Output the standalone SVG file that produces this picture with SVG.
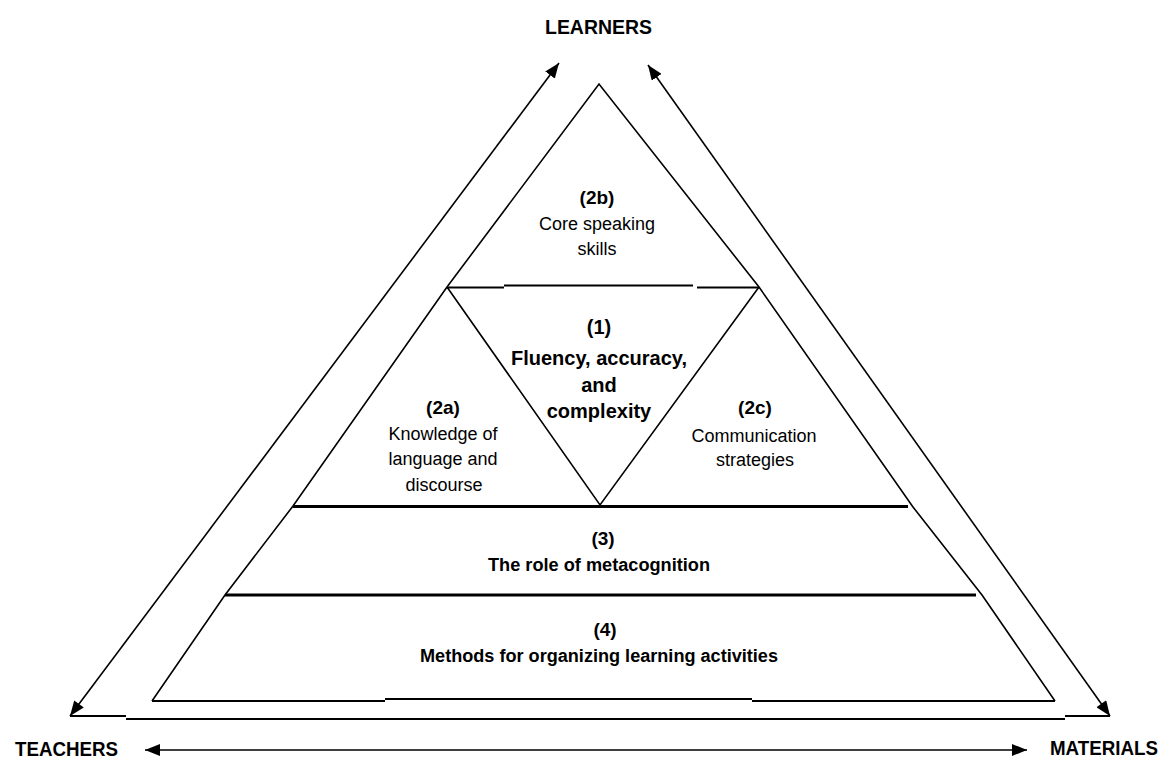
<svg xmlns="http://www.w3.org/2000/svg" width="1167" height="758" viewBox="0 0 1167 758">
  <style>
    .edge { fill: none; stroke: #000; stroke-width: 1.6; stroke-linejoin: miter; }
    .tier { fill: none; stroke: #000; stroke-width: 3; }
    .thin { fill: none; stroke: #000; stroke-width: 1.8; }
    .arrow { fill: none; stroke: #000; stroke-width: 1.6; }
    .lab { font-family: "Liberation Sans", Arial, sans-serif; font-size: 18px; fill: #000; text-anchor: middle; }
    .num { font-family: "Liberation Sans", Arial, sans-serif; font-size: 19px; font-weight: bold; fill: #000; text-anchor: middle; }
    .big { font-family: "Liberation Sans", Arial, sans-serif; font-size: 20px; font-weight: bold; fill: #000; text-anchor: middle; }
    .bold18 { font-family: "Liberation Sans", Arial, sans-serif; font-size: 18px; font-weight: bold; fill: #000; text-anchor: middle; }
    .corner { font-family: "Liberation Sans", Arial, sans-serif; font-size: 20px; font-weight: bold; fill: #000; }
  </style>
  <defs>
    <marker id="head" markerUnits="userSpaceOnUse" markerWidth="16" markerHeight="12" refX="15" refY="6" orient="auto">
      <path d="M0,0 L15,6 L0,12 Z" fill="#000"/>
    </marker>
    <marker id="headStart" markerUnits="userSpaceOnUse" markerWidth="16" markerHeight="12" refX="0" refY="6" orient="auto">
      <path d="M15,0 L0,6 L15,12 Z" fill="#000"/>
    </marker>
  </defs>

  <rect width="1167" height="758" fill="#fff"/>

  <!-- corner labels -->
  <g id="learners">
    <text class="corner" x="545" y="34" textLength="107" lengthAdjust="spacingAndGlyphs">LEARNERS</text>
  </g>
  <g id="teachers">
    <text class="corner" x="15" y="756" textLength="103" lengthAdjust="spacingAndGlyphs">TEACHERS</text>
  </g>
  <g id="materials">
    <text class="corner" x="1050" y="755" textLength="108" lengthAdjust="spacingAndGlyphs">MATERIALS</text>
  </g>

  <!-- outer pyramid and tier dividers -->
  <g id="pyramid">
    <polyline class="edge" points="152,701 225,595 293,506 447,287 599,84 759,287 913,507 982,595 1055,701"/>
    <polyline class="edge" points="447,287 600,505 759,287"/>
    <!-- top divider (2b) -->
    <line class="thin" x1="447" y1="287.5" x2="504" y2="287.5"/>
    <line class="thin" x1="504" y1="285.5" x2="693" y2="285.5" stroke-width="2.4"/>
    <line class="thin" x1="697" y1="287.5" x2="759" y2="287.5"/>
    <!-- tier 3 and tier 4 dividers -->
    <line class="tier" x1="293" y1="506.5" x2="908" y2="506.5"/>
    <line class="tier" x1="225" y1="595" x2="976" y2="595"/>
    <!-- base -->
    <line class="thin" x1="152" y1="701" x2="385" y2="701"/>
    <line class="thin" x1="385" y1="699" x2="752" y2="699"/>
    <line class="thin" x1="752" y1="701" x2="1055" y2="701"/>
  </g>

  <!-- region labels -->
  <g id="node-2b">
    <text class="num" x="597" y="204">(2b)</text>
    <text class="lab" x="597" y="230">Core speaking</text>
    <text class="lab" x="597" y="255">skills</text>
  </g>
  <g id="node-1">
    <text class="big" x="599" y="334">(1)</text>
    <text class="big" x="599" y="365">Fluency, accuracy,</text>
    <text class="big" x="599" y="392">and</text>
    <text class="big" x="599" y="418">complexity</text>
  </g>
  <g id="node-2a">
    <text class="num" x="443" y="414">(2a)</text>
    <text class="lab" x="443" y="440">Knowledge of</text>
    <text class="lab" x="443" y="465">language and</text>
    <text class="lab" x="444" y="491">discourse</text>
  </g>
  <g id="node-2c">
    <text class="num" x="755" y="414">(2c)</text>
    <text class="lab" x="754" y="442">Communication</text>
    <text class="lab" x="755" y="466">strategies</text>
  </g>
  <g id="node-3">
    <text class="num" x="603" y="545">(3)</text>
    <text class="bold18" x="599" y="571" textLength="222" lengthAdjust="spacingAndGlyphs">The role of metacognition</text>
  </g>
  <g id="node-4">
    <text class="num" x="605" y="636">(4)</text>
    <text class="bold18" x="599" y="662" textLength="358" lengthAdjust="spacingAndGlyphs">Methods for organizing learning activities</text>
  </g>

  <!-- connectors between learners, teachers and materials -->
  <g id="connectors">
    <line class="arrow" x1="70" y1="716" x2="559" y2="63" marker-start="url(#headStart)" marker-end="url(#head)"/>
    <line class="arrow" x1="1110" y1="716" x2="648" y2="65" marker-start="url(#headStart)" marker-end="url(#head)"/>
    <line class="thin" x1="70" y1="716" x2="126" y2="716"/>
    <line class="thin" x1="126" y1="719" x2="1065" y2="719"/>
    <line class="thin" x1="1065" y1="716" x2="1110" y2="716"/>
    <line class="arrow" x1="145" y1="750" x2="1027" y2="750" stroke-width="1.4" marker-start="url(#headStart)" marker-end="url(#head)"/>
  </g>
</svg>
